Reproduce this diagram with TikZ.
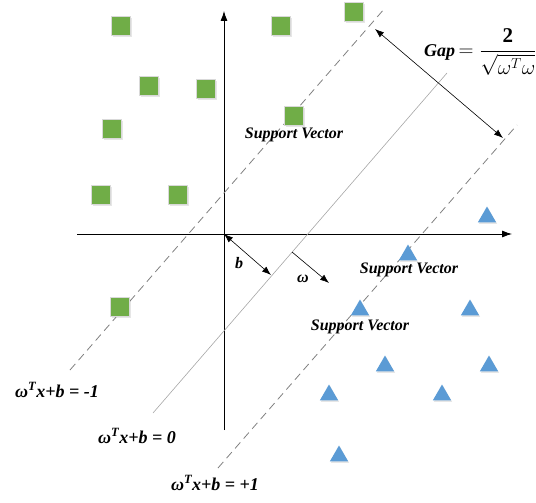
\documentclass[tikz,border=0pt]{standalone}
\usepackage{amsmath}
\usepackage{fontspec}
\setmainfont{Liberation Serif}
\usetikzlibrary{shapes,arrows.meta,shadows}
\definecolor{leafgreen}{RGB}{112,173,71}
\definecolor{skyblue}{RGB}{91,155,213}
\tikzstyle{square} = [rectangle, draw=gray!30, fill=leafgreen, minimum size=19pt,
    inner sep=0pt, drop shadow={opacity=0.2, shadow xshift=1pt, shadow yshift=-1.5pt}]
\tikzstyle{triangle} = [regular polygon, regular polygon sides=3, fill=skyblue,
    minimum size=21pt, inner sep=0pt, drop shadow={opacity=0.2, shadow xshift=1pt, shadow yshift=-1.5pt}]
\tikzstyle{axis} = [draw, -{Latex[length=10pt, width=7pt]}, line width=0.8pt]
\tikzstyle{margin} = [draw, gray, line width=0.8pt, dash pattern=on 8pt off 5pt]
\tikzstyle{hyper} = [draw, gray!70, line width=0.6pt]
\tikzstyle{line} = [draw, {Latex[length=9pt, width=6.5pt]}-{Latex[length=9pt, width=6.5pt]}, line width=0.6pt]
\tikzstyle{tag} = [font=\bfseries\itshape\fontsize{16}{18}\selectfont, inner sep=0pt]
\tikzstyle{equation} = [font=\bfseries\itshape\fontsize{18}{20}\selectfont, inner sep=0pt]

\begin{document}
\begin{tikzpicture}[x=1pt, y=-1pt]
\useasboundingbox (0,0) rectangle (536,503);

% axes
\coordinate (o) at (224,234);
\coordinate (xmin) at (77,234);
\coordinate (xmax) at (512,234);
\coordinate (ymin) at (224,430);
\coordinate (ymax) at (224,11);
\path [axis] (xmin) -- (xmax);
\path [axis] (ymin) -- (ymax);

% hyperplanes
\coordinate (neg1) at (70,370);
\coordinate (neg2) at (385,8);
\coordinate (mid1) at (153,413);
\coordinate (mid2) at (447,73);
\coordinate (pos1) at (218,468);
\coordinate (pos2) at (517,125);
\path [margin] (neg1) -- (neg2);
\path [hyper] (mid1) -- (mid2);
\path [margin] (pos1) -- (pos2);

% class +1
\foreach \x/\y [count=\i] in {121/26, 281/26, 354/12, 149/86, 206/89, 112/129,
    294/116, 101/195, 178/195, 120/307}
  \node [square] (sq\i) at (\x,\y) {};

% class -1
\foreach \x/\y [count=\i] in {487/217, 408/255, 360/310, 470/310, 385/366,
    489/366, 329/395, 442/395, 339/456}
  \node [triangle] (tri\i) at (\x,\y) {};

% arrows
\coordinate (gapA) at (375,29);
\coordinate (gapB) at (503,138);
\coordinate (bfoot) at (271,275);
\coordinate (wtail) at (292,252);
\coordinate (whead) at (329,283);
\path [line] (gapA) -- (gapB);
\path [line] (o) -- (bfoot);
\path [line, -{Latex[length=9pt, width=6.5pt]}] (wtail) -- (whead);

% labels
\node [tag] (sv1) at (294,135) {Support Vector};
\node [tag] (sv2) at (409,270) {Support Vector};
\node [tag] (sv3) at (360,327) {Support Vector};
\node [tag] (blabel) at (239,263) {b};
\node [tag] (wlabel) at (303,279) {ω};
\node [equation] (eqneg) at (57,390) {ω\textsuperscript{T}x+b = -1};
\node [equation] (eqmid) at (137,436) {ω\textsuperscript{T}x+b = 0};
\node [equation] (eqpos) at (215,483) {ω\textsuperscript{T}x+b = +1};
\node [equation, anchor=west] (gap) at (424,52)
  {Gap{\fontsize{21}{24}\selectfont$\,=\dfrac{\mathbf{2}}{\sqrt{\omega^T\omega}}$}};
\end{tikzpicture}
\end{document}
